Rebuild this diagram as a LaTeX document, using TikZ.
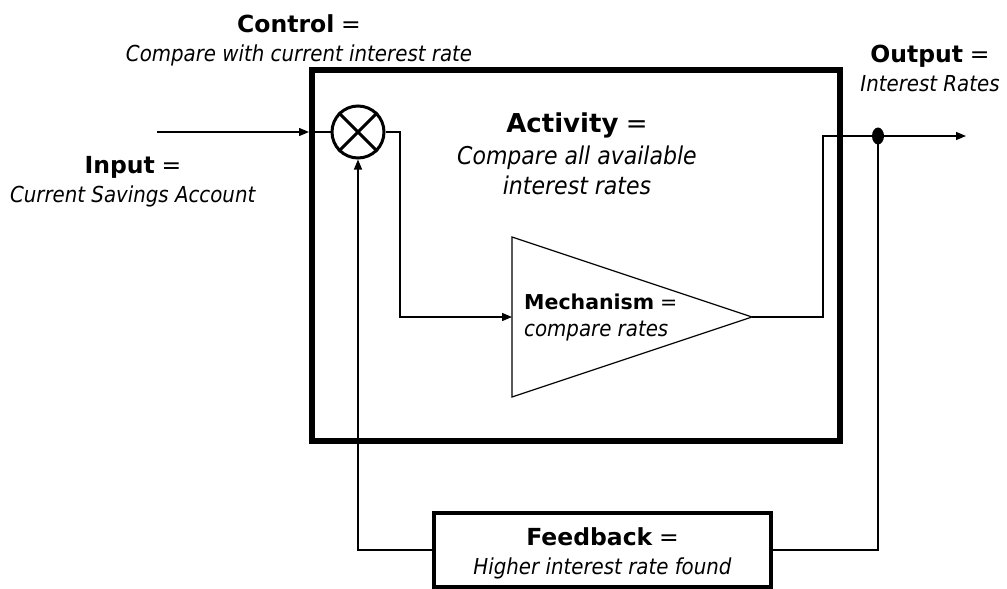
\documentclass[tikz,border=0pt]{standalone}
\usepackage{fontspec}
\setmainfont{DejaVu Sans Condensed}
\newfontfamily\boldfam{DejaVu Sans Bold}
\newfontfamily\eqfam{DejaVu Sans}
\newcommand{\bt}[1]{{\fontsize{23.5}{29}\selectfont{\boldfam #1} {\eqfam=}}}
\newcommand{\bta}[1]{{\fontsize{26}{31}\selectfont{\boldfam #1} {\eqfam=}}}
\newcommand{\btm}[1]{{\fontsize{20.5}{27}\selectfont{\boldfam #1} {\eqfam=}}}
\usetikzlibrary{arrows.meta,shapes.geometric}
\begin{document}
\begin{tikzpicture}[x=1pt,y=-1pt,
  thin line/.style={line width=1.3pt},
  arr/.style={thin line,-{Triangle[length=10pt,width=8pt]}},
  lbl/.style={inner sep=0pt,align=center,font=\fontsize{22}{29}\selectfont}]
\useasboundingbox (0,0) rectangle (1007,589);
% main activity box
\draw[line width=6pt] (312,70) rectangle (840,441);
\coordinate (boxin) at (309,132);
% summing junction
\node[draw,circle,line width=3pt,minimum size=52pt,inner sep=0pt] (sum) at (358,132) {};
\draw[line width=3pt] (sum.north west) -- (sum.south east) (sum.north east) -- (sum.south west);
% input
\coordinate (instart) at (157,132);
\draw[arr] (instart) -- (boxin);
\draw[thin line] (boxin) -- (sum.west);
% to mechanism
\coordinate (m1) at (400,132);
\coordinate (m2) at (400,317);
\coordinate (tl) at (512,237);
\coordinate (bl) at (512,397);
\coordinate (tip) at (752,317);
\draw[line width=1.2pt] (tl) -- (tip) -- (bl) -- cycle;
\coordinate (mechin) at (512,317);
\draw[arr] (sum.east) -- (m1) -- (m2) -- (mechin);
% output
\coordinate (o1) at (823,317);
\coordinate (o2) at (823,136);
\node[fill=black,ellipse,minimum width=12pt,minimum height=17pt,inner sep=0pt] (dot) at (878,136) {};
\coordinate (outend) at (966,136);
\draw[arr] (tip) -- (o1) -- (o2) -- (outend);
% feedback
\node[draw,line width=4pt,minimum width=337pt,minimum height=74pt,inner sep=0pt] (fb) at (602.5,550) {};
\coordinate (f1) at (878,550);
\coordinate (f2) at (358,550);
\draw[thin line] (dot.center) -- (f1) -- (fb.east);
\draw[arr] (fb.west) -- (f2) -- (sum.south);
% labels
\node[lbl] (ctrl) at (299,40) {\bt{Control}\\ \textit{Compare with current interest rate}};
\node[lbl] (inp) at (133,182) {\bt{Input}\\ \textit{Current Savings Account}};
\node[lbl,font=\fontsize{24.5}{30}\selectfont] (act) at (577,154) {\bta{Activity}\\[2pt] \textit{Compare all available}\\ \textit{interest rates}};
\node[lbl] (out) at (930,68) {\bt{Output}\\ \textit{Interest Rates}};
\node[lbl,align=left,anchor=west,font=\fontsize{22}{27}\selectfont] (mech) at (524,317) {\btm{Mechanism}\\ \textit{compare rates}};
\node[lbl] (fbt) at (602.5,553) {\bt{Feedback}\\ \textit{Higher interest rate found}};
\end{tikzpicture}
\end{document}
